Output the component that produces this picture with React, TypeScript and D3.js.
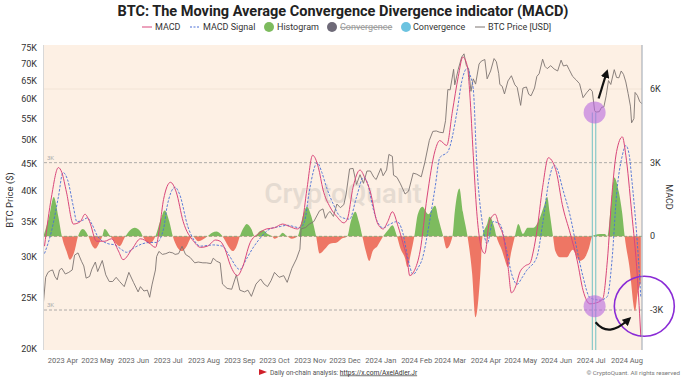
import React from "react";
import * as d3 from "d3";

const W = 686, H = 379;

const priceDates = ["2023-03-15","2023-03-17","2023-03-19","2023-03-21","2023-03-23","2023-03-25","2023-03-27","2023-03-29","2023-03-31","2023-04-03","2023-04-06","2023-04-09","2023-04-11","2023-04-14","2023-04-17","2023-04-19","2023-04-21","2023-04-24","2023-04-26","2023-04-29","2023-05-01","2023-05-05","2023-05-08","2023-05-11","2023-05-14","2023-05-17","2023-05-20","2023-05-24","2023-05-28","2023-06-01","2023-06-05","2023-06-07","2023-06-10","2023-06-13","2023-06-15","2023-06-17","2023-06-20","2023-06-21","2023-06-23","2023-06-26","2023-06-29","2023-07-02","2023-07-05","2023-07-07","2023-07-10","2023-07-13","2023-07-16","2023-07-20","2023-07-24","2023-07-27","2023-07-31","2023-08-03","2023-08-07","2023-08-09","2023-08-12","2023-08-15","2023-08-17","2023-08-21","2023-08-25","2023-08-29","2023-09-01","2023-09-05","2023-09-08","2023-09-11","2023-09-15","2023-09-19","2023-09-22","2023-09-25","2023-09-28","2023-10-01","2023-10-05","2023-10-09","2023-10-12","2023-10-16","2023-10-20","2023-10-23","2023-10-24","2023-10-28","2023-10-31","2023-11-04","2023-11-09","2023-11-12","2023-11-14","2023-11-16","2023-11-18","2023-11-21","2023-11-24","2023-11-27","2023-11-30","2023-12-02","2023-12-05","2023-12-08","2023-12-11","2023-12-14","2023-12-17","2023-12-20","2023-12-23","2023-12-26","2023-12-28","2024-01-01","2024-01-03","2024-01-06","2024-01-08","2024-01-11","2024-01-12","2024-01-15","2024-01-18","2024-01-22","2024-01-25","2024-01-29","2024-02-01","2024-02-05","2024-02-08","2024-02-12","2024-02-15","2024-02-18","2024-02-21","2024-02-24","2024-02-26","2024-02-28","2024-03-01","2024-03-04","2024-03-05","2024-03-08","2024-03-11","2024-03-13","2024-03-15","2024-03-17","2024-03-19","2024-03-21","2024-03-23","2024-03-26","2024-03-28","2024-03-31","2024-04-02","2024-04-05","2024-04-08","2024-04-10","2024-04-12","2024-04-13","2024-04-15","2024-04-17","2024-04-20","2024-04-23","2024-04-26","2024-04-28","2024-05-01","2024-05-03","2024-05-06","2024-05-08","2024-05-10","2024-05-13","2024-05-15","2024-05-17","2024-05-20","2024-05-22","2024-05-24","2024-05-27","2024-05-30","2024-06-02","2024-06-05","2024-06-07","2024-06-10","2024-06-12","2024-06-15","2024-06-18","2024-06-21","2024-06-24","2024-06-27","2024-06-30","2024-07-02","2024-07-04","2024-07-05","2024-07-08","2024-07-10","2024-07-12","2024-07-14","2024-07-16","2024-07-18","2024-07-21","2024-07-23","2024-07-25","2024-07-27","2024-07-29","2024-07-31","2024-08-02","2024-08-04","2024-08-05","2024-08-07","2024-08-08","2024-08-10","2024-08-12","2024-08-14"];
const priceValues = [24400,27400,28000,28200,28300,27500,27100,28300,28500,27800,28000,28300,30200,30500,29400,28800,27300,27500,28400,29300,28100,29500,27700,26900,26900,27400,26900,26300,28000,26800,25700,26300,25800,25900,25100,26500,28300,30000,30700,30300,30400,30600,30500,30300,30400,31400,30300,29900,29200,29300,29200,29200,29100,29800,29400,29200,26600,26100,26000,27700,25900,25700,25900,25200,26600,27200,26600,26300,27000,28000,27400,27600,26800,28500,29700,31000,33900,34100,34600,35000,36700,37000,35500,36200,36600,35800,37800,37200,37700,39500,44100,44200,41200,43000,41400,43700,43700,42500,42100,44200,42800,43900,47000,46600,42900,42500,41300,39500,40000,43300,43100,42600,45300,50000,52000,52100,51800,51700,54500,62500,62400,68300,63800,68300,72100,73100,69500,68400,62000,65500,64000,69900,70800,71300,65500,67800,71600,70600,67100,63900,63400,61300,64900,66400,63800,63100,58300,62900,63200,61200,60800,62900,66200,67000,71400,69200,68500,69400,68400,67800,71100,69300,69600,68200,66200,65200,64100,60300,61600,62700,62000,57000,56600,56700,57800,57900,60800,65000,63900,68200,65900,65800,67800,66800,64600,61400,58100,54000,55000,61700,60900,59300,58700];

const macdDates = ["2023-03-16","2023-03-22","2023-03-28","2023-03-31","2023-04-04","2023-04-10","2023-04-16","2023-04-20","2023-04-24","2023-04-30","2023-05-07","2023-05-13","2023-05-19","2023-05-23","2023-05-31","2023-06-07","2023-06-14","2023-06-20","2023-06-24","2023-06-27","2023-07-03","2023-07-08","2023-07-14","2023-07-23","2023-07-29","2023-08-04","2023-08-11","2023-08-15","2023-08-19","2023-08-24","2023-08-30","2023-09-03","2023-09-10","2023-09-17","2023-09-24","2023-10-01","2023-10-08","2023-10-14","2023-10-21","2023-10-25","2023-10-29","2023-11-03","2023-11-08","2023-11-12","2023-11-18","2023-11-24","2023-11-30","2023-12-03","2023-12-08","2023-12-14","2023-12-18","2023-12-23","2023-12-29","2024-01-03","2024-01-07","2024-01-11","2024-01-16","2024-01-20","2024-01-24","2024-01-26","2024-01-30","2024-02-04","2024-02-10","2024-02-17","2024-02-21","2024-02-27","2024-03-03","2024-03-08","2024-03-12","2024-03-16","2024-03-18","2024-03-21","2024-03-24","2024-03-29","2024-03-31","2024-04-04","2024-04-09","2024-04-12","2024-04-16","2024-04-20","2024-04-23","2024-04-27","2024-04-30","2024-05-05","2024-05-09","2024-05-12","2024-05-15","2024-05-20","2024-05-25","2024-05-29","2024-06-01","2024-06-06","2024-06-13","2024-06-19","2024-06-24","2024-06-30","2024-07-06","2024-07-11","2024-07-15","2024-07-19","2024-07-23","2024-07-28","2024-07-31","2024-08-05","2024-08-10","2024-08-13"];
const macdValues = [-400,1600,2800,2600,1800,500,600,900,600,-200,-200,-100,-600,-950,-500,-100,-250,-450,500,1500,2200,1800,600,-200,-450,-400,-150,-200,-500,-1200,-1600,-1300,-250,100,300,350,500,400,300,600,1900,3300,2800,1900,1200,800,550,700,2000,2700,2400,1800,550,300,600,1000,400,-250,-1000,-1600,-1400,-600,1600,3500,3900,3700,5100,6500,7300,6900,5800,3300,1000,-600,-700,600,900,500,0,-1200,-2300,-2000,-1500,-1200,-1100,-600,200,2000,3200,3000,2600,1300,100,-1000,-2200,-2750,-2700,-2550,-1000,1700,3450,4050,3300,1000,-1650,-4100];

const signalDates = ["2023-03-16","2023-03-22","2023-03-28","2023-04-01","2023-04-05","2023-04-10","2023-04-13","2023-04-18","2023-04-22","2023-04-26","2023-05-01","2023-05-10","2023-05-16","2023-05-22","2023-05-26","2023-06-02","2023-06-09","2023-06-15","2023-06-21","2023-06-27","2023-06-30","2023-07-07","2023-07-11","2023-07-18","2023-07-24","2023-07-29","2023-08-09","2023-08-17","2023-08-23","2023-09-01","2023-09-07","2023-09-12","2023-09-20","2023-09-27","2023-10-06","2023-10-12","2023-10-23","2023-10-27","2023-10-31","2023-11-07","2023-11-11","2023-11-15","2023-11-21","2023-11-27","2023-12-05","2023-12-11","2023-12-17","2023-12-21","2023-12-25","2023-12-29","2024-01-03","2024-01-09","2024-01-15","2024-01-20","2024-01-24","2024-01-29","2024-02-02","2024-02-06","2024-02-12","2024-02-17","2024-02-21","2024-02-28","2024-03-07","2024-03-11","2024-03-16","2024-03-18","2024-03-21","2024-03-24","2024-03-29","2024-04-02","2024-04-07","2024-04-13","2024-04-19","2024-04-23","2024-04-28","2024-05-02","2024-05-06","2024-05-15","2024-05-20","2024-05-26","2024-05-30","2024-06-02","2024-06-06","2024-06-13","2024-06-19","2024-06-24","2024-06-30","2024-07-09","2024-07-15","2024-07-19","2024-07-23","2024-07-28","2024-07-31","2024-08-03","2024-08-05","2024-08-10","2024-08-13"];
const signalValues = [-700,200,1600,2600,2300,1200,600,650,750,500,0,-300,-350,-550,-650,-450,-300,-250,-250,300,1200,2000,1700,400,-200,-400,-350,-400,-800,-1350,-900,-500,0,300,400,450,350,600,1800,3000,2600,2000,1300,800,700,1600,2400,2100,1200,600,350,500,600,150,-800,-1550,-1300,-900,550,2000,3200,3450,5100,6300,6850,6600,6000,3000,500,-300,600,500,-600,-1500,-1950,-1700,-1400,-850,500,2400,2900,2700,2000,800,-600,-1650,-2500,-2600,-2450,-1000,1700,3300,3700,3300,2400,-300,-2500];

const histDates = ["2023-03-15","2023-03-20","2023-03-24","2023-03-28","2023-03-31","2023-04-04","2023-04-07","2023-04-11","2023-04-14","2023-04-18","2023-04-23","2023-04-26","2023-04-29","2023-05-02","2023-05-05","2023-05-07","2023-05-12","2023-05-16","2023-05-20","2023-05-25","2023-05-29","2023-06-02","2023-06-07","2023-06-09","2023-06-15","2023-06-20","2023-06-24","2023-06-28","2023-07-02","2023-07-05","2023-07-09","2023-07-13","2023-07-17","2023-07-22","2023-07-27","2023-08-04","2023-08-08","2023-08-12","2023-08-17","2023-08-22","2023-08-26","2023-08-30","2023-09-01","2023-09-05","2023-09-07","2023-09-11","2023-09-14","2023-09-18","2023-09-21","2023-09-25","2023-09-29","2023-10-01","2023-10-05","2023-10-08","2023-10-12","2023-10-16","2023-10-21","2023-10-26","2023-10-29","2023-11-02","2023-11-06","2023-11-09","2023-11-14","2023-11-18","2023-11-24","2023-11-28","2023-12-03","2023-12-06","2023-12-10","2023-12-13","2023-12-16","2023-12-19","2023-12-22","2023-12-25","2023-12-29","2024-01-03","2024-01-08","2024-01-11","2024-01-15","2024-01-18","2024-01-22","2024-01-24","2024-01-27","2024-01-30","2024-02-02","2024-02-06","2024-02-11","2024-02-17","2024-02-20","2024-02-24","2024-02-27","2024-03-03","2024-03-05","2024-03-09","2024-03-12","2024-03-16","2024-03-20","2024-03-23","2024-03-27","2024-03-29","2024-04-02","2024-04-04","2024-04-08","2024-04-10","2024-04-15","2024-04-17","2024-04-20","2024-04-23","2024-04-26","2024-04-29","2024-05-03","2024-05-07","2024-05-12","2024-05-18","2024-05-21","2024-05-24","2024-05-26","2024-05-29","2024-05-31","2024-06-04","2024-06-10","2024-06-15","2024-06-21","2024-06-25","2024-06-29","2024-07-02","2024-07-04","2024-07-09","2024-07-13","2024-07-15","2024-07-18","2024-07-21","2024-07-25","2024-07-28","2024-07-30","2024-08-03","2024-08-08","2024-08-10","2024-08-13"];
const histValues = [0,800,1600,800,0,-600,-950,-600,0,300,0,-350,-500,-300,0,300,0,-250,-400,0,250,350,200,0,-300,0,600,1050,600,0,-450,-600,-400,0,-200,0,150,200,0,-400,-600,-300,0,400,500,300,0,200,250,100,0,-100,0,150,0,-100,0,900,1200,800,0,-700,-500,-300,-250,-100,0,600,1000,600,0,-600,-1000,-600,-400,0,300,450,0,-500,-900,-1250,-700,0,900,1200,900,1250,700,0,-500,0,1000,1950,1000,0,-1500,-3300,-1600,0,500,800,400,0,-600,-900,-1250,-600,0,500,100,350,350,800,1200,1600,1000,0,-600,-850,-850,-550,-1000,-900,-500,0,50,100,100,0,1200,2400,1800,900,0,-1200,-3050,-2400,-1900];

const priceTicks = [20000,25000,30000,35000,40000,45000,50000,55000,60000,65000,70000,75000];
const macdTicks = [-3000,0,3000,6000];

const FONT = "Roboto, 'Helvetica Neue', Arial, sans-serif";

export default function App() {
  const parse = d3.timeParse("%Y-%m-%d");
  const left = 44, right = 642, top = 45, bottom = 350;
  const x = d3.scaleTime().domain([parse("2023-03-15")!, parse("2024-08-14")!]).range([43.35, 642]);
  const yP = d3.scaleLog().domain([20000, 75000]).range([349, 48]);
  const yM = d3.scaleLinear().domain([-3000, 6000]).range([310, 89]);

  const price = priceDates.map((d, i) => ({ t: parse(d)!, v: priceValues[i] }));
  const macd = macdDates.map((d, i) => ({ t: parse(d)!, v: macdValues[i] }));
  const signal = signalDates.map((d, i) => ({ t: parse(d)!, v: signalValues[i] }));
  const hist = histDates.map((d, i) => ({ t: parse(d)!, v: histValues[i] }));

  const priceLine = d3.line<any>().x(d => x(d.t)).y(d => yP(d.v));
  const mLine = d3.line<any>().x(d => x(d.t)).y(d => yM(d.v)).curve(d3.curveMonotoneX);
  const hArea = d3.area<any>().x(d => x(d.t)).y0(yM(0)).y1(d => yM(d.v)).curve(d3.curveMonotoneX);

  const months = d3.timeMonth.range(parse("2023-04-01")!, parse("2024-08-02")!);
  const fmtMonth = d3.timeFormat("%Y %b");
  const fmtK = (v: number) => (v === 0 ? "0" : `${v / 1000}K`);

  const c1x = x(parse("2024-07-04")!), c1y = yP(56500);
  const c2x = c1x, c2y = yM(-2850);
  const bigX = x(parse("2024-08-16")!), bigY = yM(-2850);
  const t1 = x(parse("2024-07-02")!), t2 = x(parse("2024-07-05")!);

  const legendY = 30;

  return (
    <div style={{ position: "fixed", left: 0, top: 0 }}>
      <svg width={W} height={H} style={{ display: "block", fontFamily: FONT }}>
        <defs>
          <clipPath id="pos"><rect x={left} y={top} width={right - left} height={yM(0) - top} /></clipPath>
          <clipPath id="neg"><rect x={left} y={yM(0)} width={right - left} height={bottom - yM(0)} /></clipPath>
          <clipPath id="plot"><rect x={left} y={top} width={right - left} height={bottom - top} /></clipPath>
          <marker id="ah" viewBox="0 0 10 10" refX="6" refY="5" markerWidth="4" markerHeight="4" orient="auto">
            <path d="M0,0 L10,5 L0,10 z" fill="#111" />
          </marker>
        </defs>
        <rect width={W} height={H} fill="#fff" />
        <text x={343} y={15.5} textAnchor="middle" fontSize={14.5} fontWeight={700} fill="#222">BTC: The Moving Average Convergence Divergence indicator (MACD)</text>

        {/* legend */}
        <g fontSize={9} fill="#333">
          <line x1={142} x2={152} y1={legendY - 3} y2={legendY - 3} stroke="#d9467a" strokeWidth={1} />
          <text x={155} y={legendY}>MACD</text>
          <line x1={190} x2={200} y1={legendY - 3} y2={legendY - 3} stroke="#4a6fd6" strokeWidth={1} strokeDasharray="2,1.5" />
          <text x={203} y={legendY}>MACD Signal</text>
          <circle cx={269} cy={legendY - 3} r={5} fill="#7dbb5e" />
          <text x={277} y={legendY}>Histogram</text>
          <circle cx={332} cy={legendY - 3} r={5} fill="#6e6a78" />
          <text x={340} y={legendY} fill="#999" textDecoration="line-through">Convergence</text>
          <circle cx={406} cy={legendY - 3} r={5} fill="#6cc3e0" />
          <text x={413} y={legendY}>Convergence</text>
          <line x1={475} x2={485} y1={legendY - 3} y2={legendY - 3} stroke="#7d7470" strokeWidth={1} />
          <text x={488} y={legendY}>BTC Price [USD]</text>
        </g>

        {/* plot background */}
        <rect x={left} y={top} width={right - left} height={bottom - top} fill="#fdf0e4" />
        <line x1={left} x2={right} y1={yM(6000)} y2={yM(6000)} stroke="#f2e4d6" strokeWidth={1} />
        {[3000, -3000].map(v => (
          <g key={v}>
            <line x1={left} x2={right} y1={yM(v)} y2={yM(v)} stroke="#9a9a9a" strokeWidth={0.8} strokeDasharray="3,2" />
            <text x={47} y={yM(v) - 3} fontSize={6} fill="#aaa">3K</text>
          </g>
        ))}

        <text x={343} y={203} textAnchor="middle" fontSize={28} fontWeight={500} fill="#c9c2bc" opacity={0.45}>CryptoQuant</text>

        <g clipPath="url(#plot)">
          <path d={hArea(hist)!} fill="#7dbb5e" clipPath="url(#pos)" />
          <path d={hArea(hist)!} fill="#ee7664" clipPath="url(#neg)" />
          <line x1={left} x2={right} y1={yM(0)} y2={yM(0)} stroke="#7f9a6e" strokeWidth={0.8} strokeDasharray="3,2" />
          <path d={priceLine(price)!} fill="none" stroke="#7d7470" strokeWidth={0.9} />
          <path d={mLine(signal)!} fill="none" stroke="#4a6fd6" strokeWidth={0.9} strokeDasharray="2.5,1.5" />
          <path d={mLine(macd)!} fill="none" stroke="#d9467a" strokeWidth={1} />
        </g>

        {/* annotations */}
        <line x1={t1} x2={t1} y1={c1y} y2={bottom} stroke="#72c2c4" strokeWidth={1} />
        <line x1={t2} x2={t2} y1={c1y} y2={bottom} stroke="#72c2c4" strokeWidth={1} />
        <circle cx={c1x} cy={c1y} r={11} fill="#b868e0" opacity={0.6} />
        <circle cx={c2x} cy={c2y} r={11} fill="#b868e0" opacity={0.6} />
        <circle cx={bigX} cy={bigY} r={30} fill="none" stroke="#8a2bd6" strokeWidth={1.6} />
        <line x1={c1x + 4} y1={c1y - 14} x2={c1x + 12} y2={c1y - 40} stroke="#111" strokeWidth={2.2} markerEnd="url(#ah)" />
        <path d={`M${c2x + 1},${c2y + 16} Q${c2x + 14},${c2y + 32} ${c2x + 34},${c2y + 13}`} fill="none" stroke="#111" strokeWidth={2.2} markerEnd="url(#ah)" />

        {/* axes */}
        <line x1={43.5} x2={43.5} y1={top} y2={bottom} stroke="#d8d8d8" strokeWidth={1} />
        <line x1={642} x2={642} y1={top} y2={bottom} stroke="#9aa4b0" strokeWidth={1} />
        <g fontSize={9} fill="#333">
          {priceTicks.map(v => (
            <text key={v} x={37} y={yP(v)} dy="0.35em" textAnchor="end">{`${v / 1000}K`}</text>
          ))}
          {macdTicks.map(v => (
            <text key={v} x={650} y={yM(v)} dy="0.35em">{fmtK(v)}</text>
          ))}
        </g>
        <text transform={`translate(13,200) rotate(-90)`} textAnchor="middle" fontSize={9.5} fill="#333">BTC Price ($)</text>
        <text transform={`translate(666,197) rotate(90)`} textAnchor="middle" fontSize={9} fill="#333">MACD</text>
        <g fontSize={7.5} fill="#666">
          {months.map(m => (
            <text key={m.getTime()} x={x(m)} y={363} textAnchor="middle">{fmtMonth(m)}</text>
          ))}
        </g>

        {/* footer */}
        <path d="M259,369 L267,372 L259,375 z" fill="#d0202a" />
        <text x={270} y={374.5} fontSize={6.6} fill="#555">Daily on-chain analysis: <tspan fill="#333" textDecoration="underline">https://x.com/AxelAdler.Jr</tspan></text>
        <text x={680} y={374.5} fontSize={6.2} fill="#777" textAnchor="end">© CryptoQuant. All rights reserved</text>
      </svg>
    </div>
  );
}
